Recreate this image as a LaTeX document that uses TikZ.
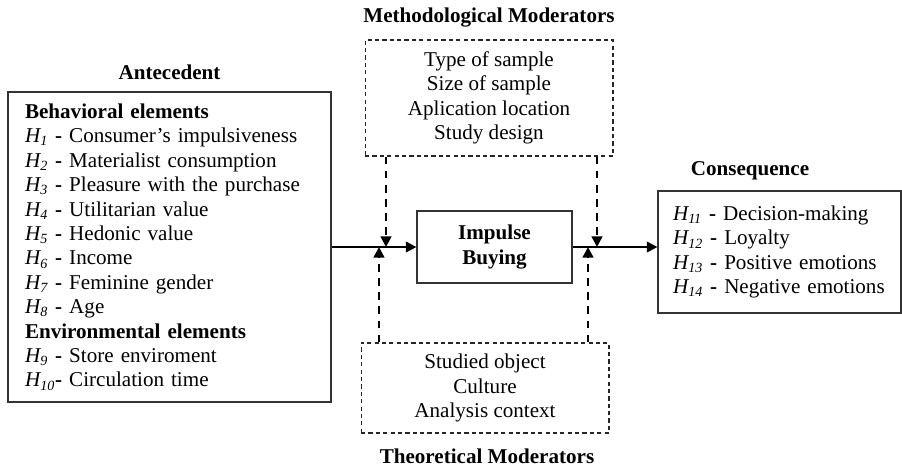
\documentclass[tikz,border=0pt]{standalone}
\usepackage{fontspec}
\setmainfont{Liberation Serif}
\usetikzlibrary{arrows.meta}

\newcommand{\hyp}[1]{\textit{H\textsubscript{#1}}}

\tikzset{
  solidbox/.style={draw=black!80, line width=0.7pt, inner ysep=0pt},
  dashbox/.style={draw=black!85, line width=0.6pt, dash pattern=on 2.4pt off 1.8pt, minimum width=4.96cm, align=center},
  title/.style={font=\fontsize{12}{13.9}\selectfont\bfseries},
  flow/.style={line width=1.1pt, -{Triangle[length=6pt,width=6pt]}},
  modflow/.style={line width=1.4pt, dash pattern=on 4.5pt off 3.5pt, -{Triangle[length=6pt,width=6pt]}}
}

\begin{document}
\begin{tikzpicture}[x=0.02cm, y=-0.02cm, font=\fontsize{12}{13.9}\selectfont]
\useasboundingbox (0,0) rectangle (902,468);

% titles
\node[title] (tante) at (169.5,72) {Antecedent};
\node[title] (tmeth) at (489,18) {Methodological Moderators};
\node[title] (ttheo) at (487,456) {Theoretical Moderators};
\node[title] (tcons) at (750,171) {Consequence};

% boxes
\node[solidbox, text width=5.78cm, inner xsep=0.34cm, minimum height=6.2cm, align=left] (ante) at (169.5,247) {
\textbf{Behavioral elements}\\
\hyp{1} \textbf{-} Consumer’s impulsiveness\\
\hyp{2} \textbf{-} Materialist consumption\\
\hyp{3} \textbf{-} Pleasure with the purchase\\
\hyp{4} \textbf{-} Utilitarian value\\
\hyp{5} \textbf{-} Hedonic value\\
\hyp{6} \textbf{-} Income\\
\hyp{7} \textbf{-} Feminine gender\\
\hyp{8} \textbf{-} Age\\
\textbf{Environmental elements}\\
\hyp{9} \textbf{-} Store enviroment\\
\hyp{10}\textbf{-} Circulation time};

\node[solidbox, minimum width=3.1cm, minimum height=1.44cm, align=center,
  font=\fontsize{12}{13.9}\selectfont\bfseries] (imp) at (494.5,247) {Impulse\\Buying};

\node[solidbox, text width=4.26cm, inner xsep=0.3cm, minimum height=2.44cm, align=left] (cons) at (779.5,252) {
\hyp{11} \textbf{-} Decision-making\\
\hyp{12} \textbf{-} Loyalty\\
\hyp{13} \textbf{-} Positive emotions\\
\hyp{14} \textbf{-} Negative emotions};

\node[dashbox, minimum height=2.32cm] (meth) at (489,98) {Type of sample\\Size of sample\\Aplication location\\Study design};
\node[dashbox, minimum height=1.8cm] (theo) at (485,388) {Studied object\\Culture\\Analysis context};

% joints on the main line
\coordinate (dL) at (386,247);
\coordinate (uL) at (379,247);
\coordinate (dR) at (597,247);
\coordinate (uR) at (588,247);

% connectors
\draw[flow] (ante.east) -- (imp.west);
\draw[flow] (imp.east) -- (imp.east -| cons.west);

\foreach \c in {dL,dR}
  \draw[modflow] (meth.south -| \c) -- (\c);
\foreach \c in {uL,uR}
  \draw[modflow] (theo.north -| \c) -- (\c);
\end{tikzpicture}
\end{document}
